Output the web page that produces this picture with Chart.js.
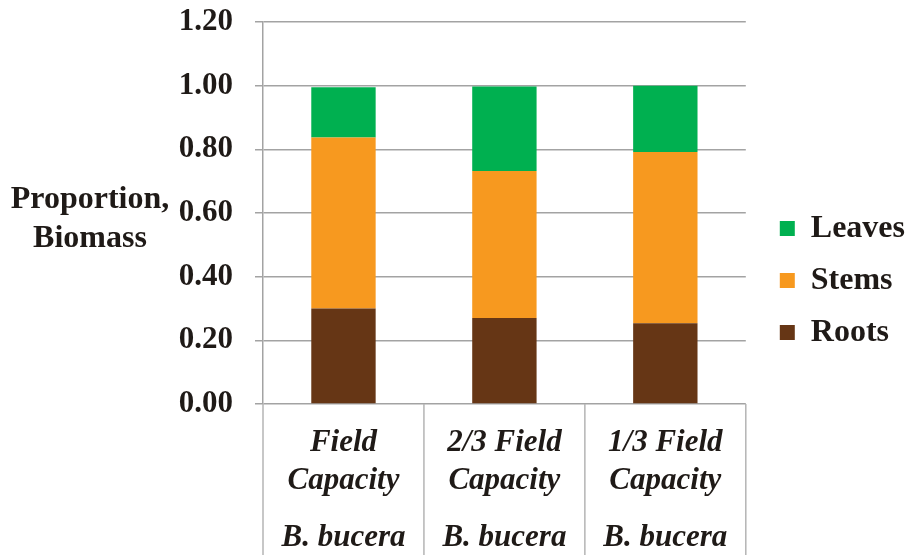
<!DOCTYPE html>
<html>
<head>
<meta charset="utf-8">
<script src="https://cdn.jsdelivr.net/npm/chart.js@4/dist/chart.umd.min.js"></script>
<style>
  html, body { margin: 0; padding: 0; background: #fff; }
  #wrap { width: 908px; height: 555px; }
</style>
</head>
<body>
<div id="wrap"><canvas id="chart" width="908" height="555"></canvas></div>
<script>
// data
const categories = [['Field', 'Capacity'], ['2/3 Field', 'Capacity'], ['1/3 Field', 'Capacity']];
const species = ['B. bucera', 'B. bucera', 'B. bucera'];
const roots = [0.30, 0.27, 0.254];
const stems = [0.537, 0.462, 0.538];
const leaves = [0.158, 0.265, 0.208];
const yTitle = ['Proportion,', 'Biomass'];

const FONT = "'Liberation Serif', 'Times New Roman', serif";
const INK = '#1f1a17';
const GRID = '#a3a3a3';

// y title drawn horizontally + separators under the bars
const extras = {
    id: 'extras',
    afterUpdate(chart) {
        // nudge legend like the original
        const lg = chart.legend;
        if (lg) { lg.left += 14; lg.right += 14; lg.top -= 8; lg.bottom -= 8; }
    },
    afterDraw(chart) {
        const ctx = chart.ctx;
        const area = chart.chartArea;
        const x = chart.scales.x;
        ctx.save();
        ctx.strokeStyle = '#b4b4b4';
        ctx.lineWidth = 1.5;
        for (let i = 0; i <= categories.length; i++) {
            const px = i === 0 ? area.left : (i === categories.length ? area.right
                : (x.getPixelForValue(i - 1) + x.getPixelForValue(i)) / 2);
            ctx.beginPath();
            ctx.moveTo(px, area.bottom);
            ctx.lineTo(px, chart.height);
            ctx.stroke();
        }
        ctx.fillStyle = INK;
        ctx.font = 'bold 32px ' + FONT;
        ctx.textAlign = 'center';
        ctx.textBaseline = 'middle';
        ctx.fillText(yTitle[0], 90, 200);
        ctx.fillText(yTitle[1], 90, 239);
        ctx.restore();
    }
};

new Chart(document.getElementById('chart'), {
    type: 'bar',
    data: {
        labels: categories,
        datasets: [
            { label: 'Roots', data: roots, backgroundColor: '#663615' },
            { label: 'Stems', data: stems, backgroundColor: '#f7991f' },
            { label: 'Leaves', data: leaves, backgroundColor: '#00b050' }
        ]
    },
    options: {
        responsive: false,
        animation: false,
        layout: { padding: { top: 22, right: 7, bottom: 0, left: 0 } },
        datasets: { bar: { barPercentage: 0.4, categoryPercentage: 1 } },
        plugins: {
            legend: {
                position: 'right',
                reverse: true,
                labels: {
                    boxWidth: 15, boxHeight: 15, padding: 20,
                    color: INK,
                    font: { family: FONT, size: 32, weight: 'bold' }
                }
            },
            tooltip: { enabled: false }
        },
        scales: {
            x: {
                stacked: true,
                afterFit(scale) { scale.height = 97; },
                grid: { display: false },
                border: { display: false },
                ticks: {
                    color: INK, padding: 12, maxRotation: 0, autoSkip: false,
                    font: { family: FONT, size: 31, weight: 'bold', style: 'italic', lineHeight: 1.23 }
                }
            },
            x2: {
                type: 'category',
                labels: species,
                offset: true,
                position: 'bottom',
                afterFit(scale) { scale.height = 54; },
                grid: { display: false },
                border: { display: false },
                ticks: {
                    color: INK, padding: 10, maxRotation: 0, autoSkip: false,
                    font: { family: FONT, size: 31, weight: 'bold', style: 'italic' }
                }
            },
            y: {
                stacked: true,
                min: 0, max: 1.2,
                afterFit(scale) {
                    scale.width = 263;
                    scale.paddingTop = 0;
                    scale.paddingBottom = 0;
                },
                grid: { color: GRID, lineWidth: 1.5, tickLength: 8 },
                border: { color: GRID, width: 1.5 },
                ticks: {
                    stepSize: 0.2, padding: 22, color: INK,
                    font: { family: FONT, size: 31, weight: 'bold' },
                    callback: v => v.toFixed(2)
                }
            }
        }
    },
    plugins: [extras]
});
</script>
</body>
</html>
